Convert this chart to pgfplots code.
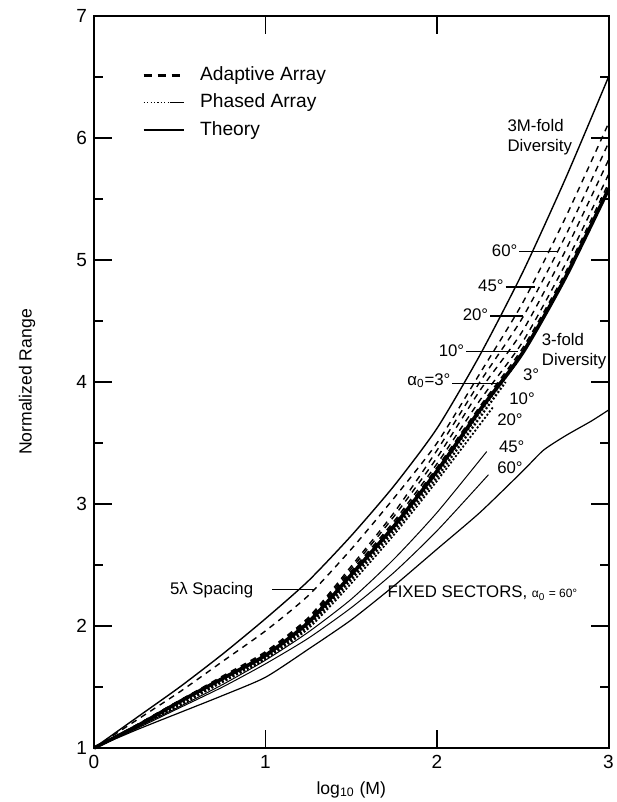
\documentclass[border=0pt]{standalone}
\usepackage{fontspec}
\setmainfont{Liberation Sans}
\usepackage{pgfplots}
\pgfplotsset{compat=1.18}
\begin{document}
\begin{tikzpicture}
\begin{axis}[
  scale only axis, width=257.25pt, height=366pt,
  xmin=0, xmax=3, ymin=1, ymax=7,
  xtick={0,1,2,3}, ytick={1,2,3,4,5,6,7},
  minor ytick={1.5,2.5,3.5,4.5,5.5,6.5},
  tick align=inside, major tick length=9pt, minor tick length=4.5pt,
  every tick/.style={line width=0.9pt, black},
  axis line style={line width=1pt},
  /pgf/number format/assume math mode=true,
  ticklabel style={font=\fontsize{9.5}{11}\selectfont},
  xlabel={log\textsubscript{10} (M)}, ylabel={Normalized Range},
  label style={font=\fontsize{8.8}{10}\selectfont},
  xlabel style={at={(axis description cs:0.5,-0.0574)}, anchor=center},
  ylabel style={at={(axis description cs:-0.130,0.5)}, anchor=center},
  legend style={at={(axis cs:0.28,6.62)}, anchor=north west, draw=none, fill=none,
    font=\fontsize{9.6}{11}\selectfont, row sep=1.2pt, inner sep=0pt},
  legend cell align=left,
  clip=false,
]
\addlegendimage{legend image code/.code={\draw[line width=1.3pt, dash pattern=on 4pt off 3pt] (0pt,0pt) -- (20pt,0pt); \path (26pt,0pt);}}
\addlegendimage{legend image code/.code={\draw[line width=0.5pt, dash pattern=on 0.6pt off 1.1pt] (0pt,0pt) -- (13pt,0pt); \draw[line width=0.6pt] (13pt,0pt) -- (20pt,0pt); \path (26pt,0pt);}}
\addlegendimage{legend image code/.code={\draw[line width=0.8pt] (0pt,0pt) -- (20pt,0pt); \path (26pt,0pt);}}
\legend{Adaptive Array, Phased Array, Theory}

% Theory: 3M-fold diversity
\addplot[black, line width=0.7pt, smooth, tension=0.4] coordinates {
(0,1.00) (0.25,1.25) (0.5,1.50) (0.75,1.77) (1.0,2.06) (1.25,2.37) (1.5,2.74)
(1.75,3.15) (2.0,3.62) (2.25,4.22) (2.5,4.90) (2.75,5.67) (3.0,6.50)};
% Theory: 3-fold diversity (bold band)
\addplot[black, line width=1.8pt, smooth, tension=0.4] coordinates {
(0,1.00) (0.25,1.18) (0.5,1.38) (0.75,1.57) (1.0,1.76) (1.25,2.03) (1.5,2.42)
(1.75,2.82) (2.0,3.27) (2.25,3.77) (2.5,4.24) (2.75,4.86) (3.0,5.58)};
% 5 lambda spacing (adaptive)
\addplot[black, line width=0.7pt, dash pattern=on 3pt off 2.6pt, smooth, tension=0.4] coordinates {
(0,1.00) (0.25,1.23) (0.5,1.46) (0.75,1.71) (1.0,1.96) (1.25,2.25) (1.5,2.63)
(1.75,3.05) (2.0,3.50) (2.25,4.07) (2.5,4.65) (2.75,5.35) (3.0,6.12)};
% Adaptive 60
\addplot[black, line width=0.7pt, dash pattern=on 3pt off 2.6pt, smooth, tension=0.4] coordinates {
(0,1.00) (0.25,1.19) (0.5,1.39) (0.75,1.59) (1.0,1.79) (1.25,2.07) (1.5,2.49)
(1.75,2.93) (2.0,3.44) (2.25,4.00) (2.5,4.53) (2.75,5.20) (3.0,5.96)};
% Adaptive 45
\addplot[black, line width=0.7pt, dash pattern=on 3pt off 2.6pt, smooth, tension=0.4] coordinates {
(0,1.00) (0.25,1.19) (0.5,1.39) (0.75,1.58) (1.0,1.78) (1.25,2.06) (1.5,2.47)
(1.75,2.90) (2.0,3.38) (2.25,3.93) (2.5,4.42) (2.75,5.08) (3.0,5.82)};
% Adaptive 20
\addplot[black, line width=0.7pt, dash pattern=on 3pt off 2.6pt, smooth, tension=0.4] coordinates {
(0,1.00) (0.25,1.18) (0.5,1.38) (0.75,1.58) (1.0,1.77) (1.25,2.05) (1.5,2.45)
(1.75,2.86) (2.0,3.33) (2.25,3.85) (2.5,4.33) (2.75,4.97) (3.0,5.70)};
% Adaptive 10
\addplot[black, line width=0.7pt, dash pattern=on 3pt off 2.6pt, smooth, tension=0.4] coordinates {
(0,1.00) (0.25,1.18) (0.5,1.38) (0.75,1.57) (1.0,1.77) (1.25,2.04) (1.5,2.43)
(1.75,2.84) (2.0,3.30) (2.25,3.80) (2.5,4.28) (2.75,4.90) (3.0,5.63)};
% Adaptive 3
\addplot[black, line width=0.7pt, dash pattern=on 3pt off 2.6pt, smooth, tension=0.4] coordinates {
(0,1.00) (0.25,1.19) (0.5,1.39) (0.75,1.58) (1.0,1.78) (1.25,2.05) (1.5,2.44)
(1.75,2.84) (2.0,3.29) (2.25,3.79) (2.5,4.26) (2.75,4.88) (3.0,5.60)};
% Phased 3, 10, 20 (dotted, hugging the band)
\addplot[black, line width=1.1pt, dash pattern=on 1pt off 1pt, smooth, tension=0.4] coordinates {
(0,1.00) (0.25,1.17) (0.5,1.37) (0.75,1.56) (1.0,1.75) (1.25,2.01) (1.5,2.40)
(1.75,2.80) (2.0,3.25) (2.25,3.75) (2.47,4.17)};
\addplot[black, line width=1.1pt, dash pattern=on 1pt off 1pt, smooth, tension=0.4] coordinates {
(0,1.00) (0.25,1.17) (0.5,1.36) (0.75,1.55) (1.0,1.74) (1.25,2.00) (1.5,2.38)
(1.75,2.78) (2.0,3.22) (2.25,3.71) (2.40,4.00)};
\addplot[black, line width=0.9pt, dash pattern=on 1pt off 1pt, smooth, tension=0.4] coordinates {
(0,1.00) (0.25,1.17) (0.5,1.35) (0.75,1.54) (1.0,1.73) (1.25,1.98) (1.5,2.35)
(1.75,2.75) (2.0,3.19) (2.33,3.80)};
% Phased 45 and 60 (thin)
\addplot[black, line width=0.5pt, smooth, tension=0.4] coordinates {
(0,1.00) (0.25,1.17) (0.5,1.34) (0.75,1.52) (1.0,1.72) (1.25,1.95) (1.5,2.22)
(1.75,2.55) (2.0,2.93) (2.29,3.43)};
\addplot[black, line width=0.5pt, smooth, tension=0.4] coordinates {
(0,1.00) (0.25,1.16) (0.5,1.33) (0.75,1.50) (1.0,1.69) (1.25,1.90) (1.5,2.15)
(1.75,2.44) (2.0,2.78) (2.3,3.24)};
% Fixed sectors, alpha0 = 60
\addplot[black, line width=0.6pt, smooth, tension=0.4] coordinates {
(0,1.00) (0.25,1.15) (0.5,1.29) (0.75,1.43) (1.0,1.58) (1.25,1.81) (1.5,2.05)
(1.75,2.33) (2.0,2.63) (2.25,2.93) (2.5,3.27) (2.62,3.44) (2.75,3.56) (2.9,3.68) (3.0,3.77)};

% annotations
\begin{scope}[every node/.style={font=\fontsize{8.4}{10}\selectfont, inner sep=0.8pt}]
\node[anchor=west, align=left] at (axis cs:2.40,6.01) {3M-fold\\Diversity};
\node[anchor=west, align=left] at (axis cs:2.60,4.25) {3-fold\\Diversity};
\node[anchor=east] at (axis cs:2.48,5.08) {60°};
\node[anchor=east] at (axis cs:2.40,4.79) {45°};
\node[anchor=east] at (axis cs:2.31,4.55) {20°};
\node[anchor=east] at (axis cs:2.17,4.26) {10°};
\node[anchor=east] at (axis cs:2.09,4.01) {α\textsubscript{0}=3°};
\node[anchor=west] at (axis cs:2.49,4.06) {3°};
\node[anchor=west] at (axis cs:2.41,3.86) {10°};
\node[anchor=west] at (axis cs:2.34,3.69) {20°};
\node[anchor=west] at (axis cs:2.35,3.47) {45°};
\node[anchor=west] at (axis cs:2.34,3.30) {60°};
\node[anchor=east] at (axis cs:0.94,2.29) {5λ Spacing};
\node[anchor=west] at (axis cs:1.70,2.27) {FIXED SECTORS, {\fontsize{6}{7}\selectfont α\textsubscript{0} = 60°}};
\end{scope}
\draw[line width=0.7pt] (axis cs:2.48,5.07) -- (axis cs:2.70,5.07);
\draw[line width=0.7pt] (axis cs:2.40,4.78) -- (axis cs:2.57,4.78);
\draw[line width=0.7pt] (axis cs:2.31,4.54) -- (axis cs:2.50,4.54);
\draw[line width=0.7pt] (axis cs:2.17,4.25) -- (axis cs:2.47,4.25);
\draw[line width=0.7pt] (axis cs:2.09,3.99) -- (axis cs:2.37,3.99);
\draw[line width=0.7pt] (axis cs:1.04,2.30) -- (axis cs:1.28,2.30);
\end{axis}
\pgfresetboundingbox
\useasboundingbox (-47pt,-27pt) rectangle (261pt,374pt);
\end{tikzpicture}
\end{document}
